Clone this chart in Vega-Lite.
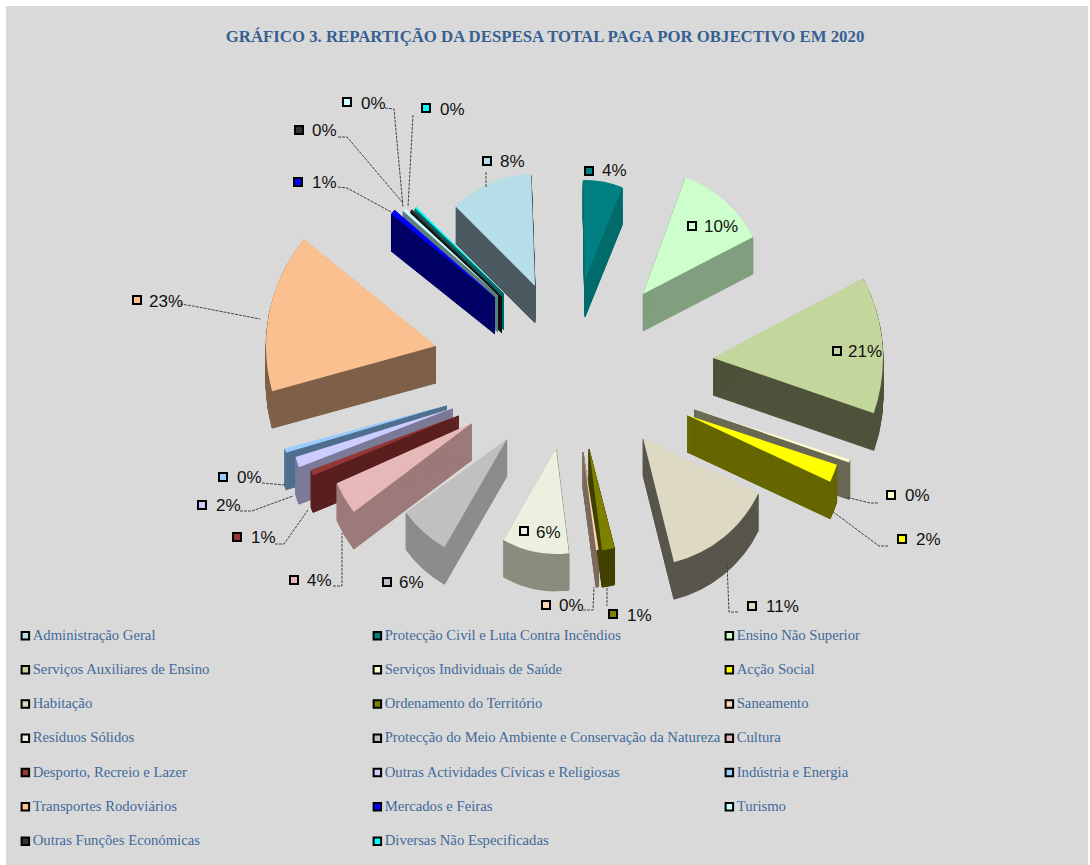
{
"$schema":"https://vega.github.io/schema/vega-lite/v6.json",
"width":1082,"height":859,"autosize":"none",
"padding":{"left":6,"top":6,"right":2,"bottom":0},
"background":"#ffffff",
"view":{"fill":"#d9d9d9","stroke":null},
"title":{"text":"GRÁFICO 3. REPARTIÇÃO DA DESPESA TOTAL PAGA POR OBJECTIVO EM 2020","font":"Liberation Serif","fontSize":16.8,"fontWeight":"bold","color":"#366092","anchor":"middle","offset":-40,"dx":-2},
"datasets":{
"slices":[
{"name":"Administração Geral","pct":"8%","ax":535,"ay":286,"a0":315,"a1":358,"r":112,"lx":500,"ly":162,"mx":487,"my":161},
{"name":"Protecção Civil e Luta Contra Incêndios","pct":"4%","ax":585,"ay":280,"a0":-1,"a1":22,"r":100,"lx":602,"ly":171,"mx":589,"my":171},
{"name":"Ensino Não Superior","pct":"10%","ax":643,"ay":294,"a0":20,"a1":62.6,"r":124,"lx":704,"ly":227,"mx":692,"my":226},
{"name":"Diversas Não Especificadas","pct":"0%","ax":504,"ay":293,"a0":313.5,"a1":314.5,"r":123,"lx":440,"ly":110,"mx":426,"my":108},
{"name":"Outras Funções Económicas","pct":"0%","ax":502,"ay":296,"a0":313,"a1":314,"r":125,"lx":312,"ly":131,"mx":299,"my":130},
{"name":"Turismo","pct":"0%","ax":498,"ay":295,"a0":311.5,"a1":313,"r":127,"lx":361,"ly":104,"mx":347,"my":102},
{"name":"Mercados e Feiras","pct":"1%","ax":495,"ay":297,"a0":308.6,"a1":311,"r":133,"lx":312,"ly":183,"mx":298,"my":182},
{"name":"Transportes Rodoviários","pct":"23%","ax":436,"ay":346,"a0":254.6,"a1":309,"r":170,"lx":149,"ly":302,"mx":137,"my":300},
{"name":"Serviços Auxiliares de Ensino","pct":"21%","ax":713,"ay":358,"a0":62,"a1":109,"r":170,"lx":848,"ly":352,"mx":837,"my":351},
{"name":"Serviços Individuais de Saúde","pct":"0%","ax":694,"ay":409,"a0":108,"a1":109,"r":164,"lx":905,"ly":496,"mx":891,"my":495},
{"name":"Acção Social","pct":"2%","ax":687,"ay":415,"a0":108.4,"a1":115,"r":158,"lx":916,"ly":540,"mx":902,"my":539},
{"name":"Indústria e Energia","pct":"0%","ax":447,"ay":405,"a0":253.5,"a1":255,"r":168,"lx":237,"ly":478,"mx":223,"my":477},
{"name":"Outras Actividades Cívicas e Religiosas","pct":"2%","ax":453,"ay":408,"a0":249,"a1":252.7,"r":165,"lx":216,"ly":506,"mx":202,"my":505},
{"name":"Desporto, Recreio e Lazer","pct":"1%","ax":459,"ay":415,"a0":247.5,"a1":249.6,"r":158,"lx":251,"ly":538,"mx":237,"my":537},
{"name":"Cultura","pct":"4%","ax":472,"ay":423,"a0":233,"a1":246,"r":148,"lx":307,"ly":581,"mx":294,"my":580},
{"name":"Protecção do Meio Ambiente e Conservação da Natureza","pct":"6%","ax":507,"ay":439,"a0":210,"a1":234,"r":125,"lx":399,"ly":583,"mx":387,"my":582},
{"name":"Resíduos Sólidos","pct":"6%","ax":556,"ay":448,"a0":173,"a1":209.7,"r":106,"lx":536,"ly":533,"mx":524,"my":531},
{"name":"Saneamento","pct":"0%","ax":583,"ay":451,"a0":171,"a1":172.5,"r":100,"lx":559,"ly":606,"mx":546,"my":605},
{"name":"Ordenamento do Território","pct":"1%","ax":589,"ay":448,"a0":165.6,"a1":172.7,"r":103,"lx":627,"ly":616,"mx":613,"my":614},
{"name":"Habitação","pct":"11%","ax":643,"ay":438,"a0":115.7,"a1":166,"r":128,"lx":766,"ly":607,"mx":752,"my":606}
],
"leaders":[
{"name":"Adm","seq":1,"x":486,"y":172},{"name":"Adm","seq":2,"x":486,"y":188},
{"name":"Tra","seq":1,"x":180,"y":304},{"name":"Tra","seq":2,"x":193,"y":306},{"name":"Tra","seq":3,"x":260,"y":319},
{"name":"Mer","seq":1,"x":338,"y":187},{"name":"Mer","seq":2,"x":347,"y":188},{"name":"Mer","seq":3,"x":393,"y":213},
{"name":"OuF","seq":1,"x":338,"y":137},{"name":"OuF","seq":2,"x":347,"y":137},{"name":"OuF","seq":3,"x":403,"y":203},
{"name":"Tur","seq":1,"x":385,"y":108},{"name":"Tur","seq":2,"x":394,"y":109},{"name":"Tur","seq":3,"x":403,"y":207},
{"name":"Div","seq":1,"x":413,"y":115},{"name":"Div","seq":2,"x":408,"y":207},
{"name":"Ind","seq":1,"x":262,"y":483},{"name":"Ind","seq":2,"x":285,"y":485},
{"name":"OuA","seq":1,"x":240,"y":511},{"name":"OuA","seq":2,"x":252,"y":511},{"name":"OuA","seq":3,"x":293,"y":496},
{"name":"Des","seq":1,"x":275,"y":544},{"name":"Des","seq":2,"x":284,"y":544},{"name":"Des","seq":3,"x":308,"y":510},
{"name":"Cul","seq":1,"x":333,"y":586},{"name":"Cul","seq":2,"x":342,"y":586},{"name":"Cul","seq":3,"x":342,"y":533},
{"name":"San","seq":1,"x":583,"y":610},{"name":"San","seq":2,"x":593,"y":610},{"name":"San","seq":3,"x":594,"y":587},
{"name":"Ord","seq":1,"x":607,"y":588},{"name":"Ord","seq":2,"x":607,"y":606},
{"name":"Hab","seq":1,"x":738,"y":612},{"name":"Hab","seq":2,"x":729,"y":612},{"name":"Hab","seq":3,"x":727,"y":563},
{"name":"Acc","seq":1,"x":888,"y":546},{"name":"Acc","seq":2,"x":879,"y":546},{"name":"Acc","seq":3,"x":832,"y":511},
{"name":"Sau","seq":1,"x":878,"y":503},{"name":"Sau","seq":2,"x":870,"y":503},{"name":"Sau","seq":3,"x":846,"y":497}
]
},
"resolve":{"scale":{"fill":"independent"}},
"layer":[
{"data":{"name":"slices"},
 "transform":[{"calculate":"[1,2,3,4,5,6,7,8,9,10,11,12,13,14,15,16,17,18,19,20,21,22,23,24,25,26,27,28,29,30,31,32,33,34,35,36,37]","as":"lift"},{"flatten":["lift"]},{"calculate":"datum.ay+datum.lift","as":"sideY"}],
 "mark":{"type":"arc","strokeWidth":1},
 "encoding":{
  "x":{"field":"ax","type":"quantitative","scale":{"domain":[6,1088]},"axis":null},
  "y":{"field":"sideY","type":"quantitative","scale":{"domain":[865,6]},"axis":null},
  "theta":{"field":"a0","type":"quantitative","scale":{"domain":[0,360],"range":[0,6.283185]}},
  "theta2":{"field":"a1"},
  "radius":{"field":"r","type":"quantitative","scale":{"type":"linear","domain":[0,200],"range":[0,200]}},
  "stroke":{"field":"name","type":"nominal","legend":null,"scale":{
   "domain":["Administração Geral","Protecção Civil e Luta Contra Incêndios","Ensino Não Superior","Serviços Auxiliares de Ensino","Serviços Individuais de Saúde","Acção Social","Habitação","Ordenamento do Território","Saneamento","Resíduos Sólidos","Protecção do Meio Ambiente e Conservação da Natureza","Cultura","Desporto, Recreio e Lazer","Outras Actividades Cívicas e Religiosas","Indústria e Energia","Transportes Rodoviários","Mercados e Feiras","Turismo","Outras Funções Económicas","Diversas Não Especificadas"],
   "range":["#4a5a60","#006b6b","#819f7f","#4f523a","#696955","#666600","#58564c","#404000","#7d6a5e","#8a8c7e","#8c8c8c","#9d7a7a","#5a1f1f","#7b7b99","#4f6f8f","#7d6047","#000066","#5f7f7f","#111111","#006666"]}},
  "fill":{"field":"name","type":"nominal","legend":null,"scale":{
   "domain":["Administração Geral","Protecção Civil e Luta Contra Incêndios","Ensino Não Superior","Serviços Auxiliares de Ensino","Serviços Individuais de Saúde","Acção Social","Habitação","Ordenamento do Território","Saneamento","Resíduos Sólidos","Protecção do Meio Ambiente e Conservação da Natureza","Cultura","Desporto, Recreio e Lazer","Outras Actividades Cívicas e Religiosas","Indústria e Energia","Transportes Rodoviários","Mercados e Feiras","Turismo","Outras Funções Económicas","Diversas Não Especificadas"],
   "range":["#4a5a60","#006b6b","#819f7f","#4f523a","#696955","#666600","#58564c","#404000","#7d6a5e","#8a8c7e","#8c8c8c","#9d7a7a","#5a1f1f","#7b7b99","#4f6f8f","#7d6047","#000066","#5f7f7f","#111111","#006666"]}}
 }},
{"data":{"name":"slices"},
 "mark":{"type":"arc"},
 "encoding":{
  "x":{"field":"ax","type":"quantitative","scale":{"domain":[6,1088]},"axis":null},
  "y":{"field":"ay","type":"quantitative","scale":{"domain":[865,6]},"axis":null},
  "theta":{"field":"a0","type":"quantitative","scale":{"domain":[0,360],"range":[0,6.283185]}},
  "theta2":{"field":"a1"},
  "radius":{"field":"r","type":"quantitative","scale":{"type":"linear","domain":[0,200],"range":[0,200]}},
  "fill":{"field":"name","type":"nominal","scale":{
   "domain":["Administração Geral","Protecção Civil e Luta Contra Incêndios","Ensino Não Superior","Serviços Auxiliares de Ensino","Serviços Individuais de Saúde","Acção Social","Habitação","Ordenamento do Território","Saneamento","Resíduos Sólidos","Protecção do Meio Ambiente e Conservação da Natureza","Cultura","Desporto, Recreio e Lazer","Outras Actividades Cívicas e Religiosas","Indústria e Energia","Transportes Rodoviários","Mercados e Feiras","Turismo","Outras Funções Económicas","Diversas Não Especificadas"],
   "range":["#b7dde8","#008080","#ccffcc","#c3d69b","#ffffcc","#ffff00","#ddd9c3","#808000","#fcd5b5","#ebf1de","#c0c0c0","#e6b9b8","#953735","#ccccff","#99ccff","#fac08f","#0000ff","#ccffff","#333333","#00ffff"]},
   "legend":{"title":null,"orient":"none","direction":"horizontal","legendX":12,"legendY":622,"columns":3,"gridAlign":"all","symbolType":"square","symbolSize":56,"symbolStrokeColor":"#000000","symbolStrokeWidth":2,"labelFont":"Liberation Serif","labelFontSize":14.7,"labelColor":"#41699a","labelLimit":400,"labelOffset":0,"rowPadding":17.3,"columnPadding":-4,"padding":0}}
 }},
{"data":{"name":"leaders"},
 "mark":{"type":"line","color":"#444444","strokeWidth":1,"strokeDash":[3,1]},
 "encoding":{
  "x":{"field":"x","type":"quantitative","scale":{"domain":[6,1088]},"axis":null},
  "y":{"field":"y","type":"quantitative","scale":{"domain":[865,6]},"axis":null},
  "detail":{"field":"name"},
  "order":{"field":"seq","type":"quantitative"}
 }},
{"data":{"name":"slices"},
 "mark":{"type":"point","shape":"square","filled":true,"size":64,"stroke":"#000000","strokeWidth":2,"opacity":1},
 "encoding":{
  "x":{"field":"mx","type":"quantitative","scale":{"domain":[6,1088]},"axis":null},
  "y":{"field":"my","type":"quantitative","scale":{"domain":[865,6]},"axis":null},
  "fill":{"field":"name","type":"nominal","legend":null,"scale":{
   "domain":["Administração Geral","Protecção Civil e Luta Contra Incêndios","Ensino Não Superior","Serviços Auxiliares de Ensino","Serviços Individuais de Saúde","Acção Social","Habitação","Ordenamento do Território","Saneamento","Resíduos Sólidos","Protecção do Meio Ambiente e Conservação da Natureza","Cultura","Desporto, Recreio e Lazer","Outras Actividades Cívicas e Religiosas","Indústria e Energia","Transportes Rodoviários","Mercados e Feiras","Turismo","Outras Funções Económicas","Diversas Não Especificadas"],
   "range":["#b7dde8","#008080","#ccffcc","#c3d69b","#ffffcc","#ffff00","#ddd9c3","#808000","#fcd5b5","#ebf1de","#c0c0c0","#e6b9b8","#953735","#ccccff","#99ccff","#fac08f","#0000ff","#ccffff","#333333","#00ffff"]}}
 }},
{"data":{"name":"slices"},
 "mark":{"type":"text","align":"left","baseline":"middle","font":"Liberation Sans","fontSize":17,"color":"#111111"},
 "encoding":{
  "x":{"field":"lx","type":"quantitative","scale":{"domain":[6,1088]},"axis":null},
  "y":{"field":"ly","type":"quantitative","scale":{"domain":[865,6]},"axis":null},
  "text":{"field":"pct"}
 }}
]
}
